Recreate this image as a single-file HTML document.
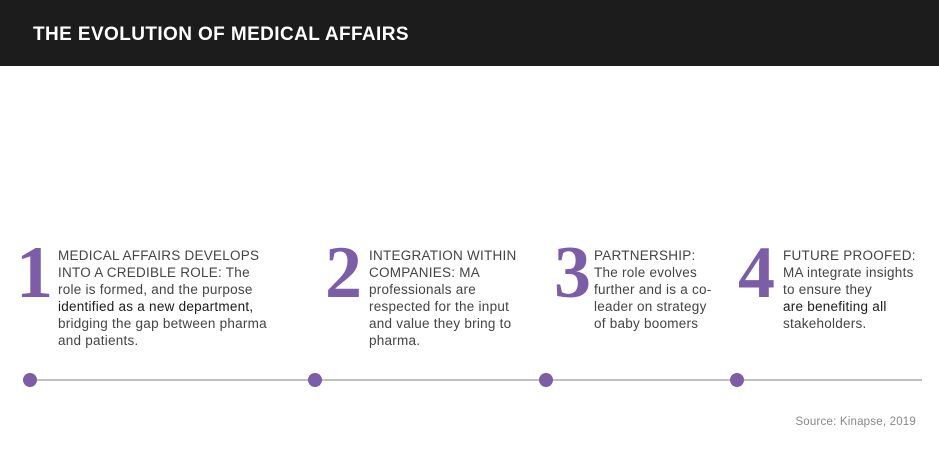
<!DOCTYPE html>
<html><head><meta charset="utf-8"><style>
html,body{margin:0;padding:0;background:#fff;}
svg{display:block}
.t{font-family:"Liberation Sans",sans-serif;font-size:13.5px;letter-spacing:0.25px;fill:#444}
.d{fill:#1a1a1a}
.n{font-family:"Liberation Serif",serif;font-weight:bold;font-size:74px;fill:#7b5ea7}
</style></head><body>
<svg width="939" height="453" viewBox="0 0 939 453" xmlns="http://www.w3.org/2000/svg">
<rect x="0" y="0" width="939" height="66" fill="#1c1c1c"/>
<text x="33" y="40" font-family="Liberation Sans, sans-serif" font-weight="bold" font-size="19" letter-spacing="0.4" fill="#fff">THE EVOLUTION OF MEDICAL AFFAIRS</text>

<text class="n" x="16" y="297">1</text>
<text class="t" x="58" y="260">MEDICAL AFFAIRS DEVELOPS</text>
<text class="t" x="58" y="277">INTO A CREDIBLE ROLE: The</text>
<text class="t" x="58" y="294">role is formed, and the purpose</text>
<text class="t d" x="58" y="311">identified as a new department,</text>
<text class="t" x="58" y="328">bridging the gap between pharma</text>
<text class="t" x="58" y="345">and patients.</text>

<text class="n" x="325" y="297">2</text>
<text class="t" x="369" y="260">INTEGRATION WITHIN</text>
<text class="t" x="369" y="277">COMPANIES: MA</text>
<text class="t" x="369" y="294">professionals are</text>
<text class="t" x="369" y="311">respected for the input</text>
<text class="t" x="369" y="328">and value they bring to</text>
<text class="t" x="369" y="345">pharma.</text>

<text class="n" x="554" y="297">3</text>
<text class="t" x="594" y="260">PARTNERSHIP:</text>
<text class="t" x="594" y="277">The role evolves</text>
<text class="t" x="594" y="294">further and is a co-</text>
<text class="t" x="594" y="311">leader on strategy</text>
<text class="t" x="594" y="328">of baby boomers</text>

<text class="n" x="738" y="297">4</text>
<text class="t" x="783" y="260">FUTURE PROOFED:</text>
<text class="t" x="783" y="277">MA integrate insights</text>
<text class="t" x="783" y="294">to ensure they</text>
<text class="t d" x="783" y="311">are benefiting all</text>
<text class="t" x="783" y="328">stakeholders.</text>

<line x1="30" y1="380" x2="922" y2="380" stroke="#9a9a9a" stroke-width="1.2"/>
<circle cx="30" cy="380" r="7" fill="#7b5ea7"/>
<circle cx="315" cy="380" r="7" fill="#7b5ea7"/>
<circle cx="546" cy="380" r="7" fill="#7b5ea7"/>
<circle cx="737" cy="380" r="7" fill="#7b5ea7"/>

<text x="916" y="425" text-anchor="end" font-family="Liberation Sans, sans-serif" font-size="11.5" letter-spacing="0.2" fill="#888">Source: Kinapse, 2019</text>
</svg>
</body></html>
